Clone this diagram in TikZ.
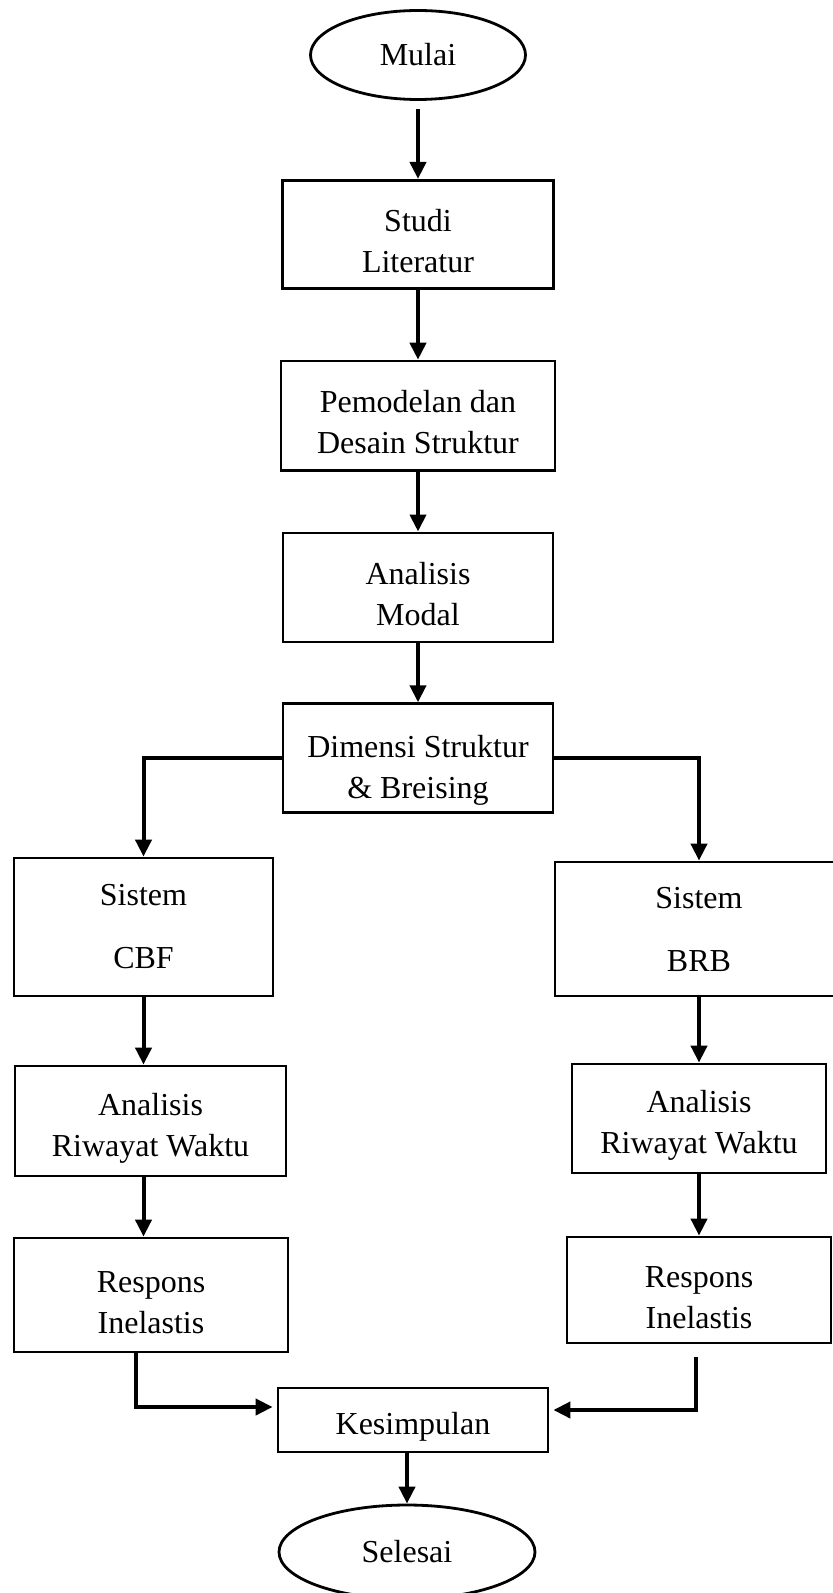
\documentclass[tikz,border=0pt]{standalone}
\usepackage{fontspec}
\setmainfont{Liberation Serif}
\usetikzlibrary{shapes.geometric,arrows.meta,positioning,calc}
\newcommand{\boxstrut}[1][18pt]{\rule{0pt}{#1}}

\begin{document}
\begin{tikzpicture}[
    x=0.5pt, y=-0.5pt,
    node distance=30pt,
    box/.style={rectangle, draw, line width=1.4pt, inner sep=0pt, align=center, font=\fontsize{16}{20.5}\selectfont},
    terminal/.style={ellipse, draw, line width=1.4pt, inner sep=0pt, font=\fontsize{16}{20.5}\selectfont},
    flow/.style={line width=2pt, -{Triangle[length=8.5pt, width=8pt]}}
]
  \useasboundingbox (0,0) rectangle (832,1593);

  % main column
  \node[terminal, minimum width=107.5pt, minimum height=44.5pt] (mulai) at (418,55) {Mulai};
  \node[box, minimum width=135.5pt, minimum height=54pt, below=39pt of mulai] (studi) {\boxstrut Studi\\Literatur};
  \node[box, minimum width=137pt, minimum height=54.5pt, below=35pt of studi] (pemodelan) {\boxstrut Pemodelan dan\\Desain Struktur};
  \node[box, minimum width=135pt, minimum height=54.5pt, below=30pt of pemodelan] (modal) {\boxstrut Analisis\\Modal};
  \node[box, minimum width=135pt, minimum height=54.5pt, below=29.5pt of modal] (dimensi) {\boxstrut[23pt]Dimensi Struktur\\\& Breising};

  % left branch
  \node[box, minimum width=129.5pt, minimum height=69pt] (cbf) at (143.5,927) {Sistem\\[11pt]CBF};
  \node[box, minimum width=135.5pt, minimum height=55pt] (rwkiri) at (150.5,1121) {\boxstrut Analisis\\Riwayat Waktu};
  \node[box, minimum width=137pt, minimum height=57pt] (respkiri) at (151,1295) {\boxstrut Respons\\Inelastis};

  % right branch
  \node[box, minimum width=144pt, minimum height=67pt] (brb) at (699,929) {Sistem\\[11pt]BRB};
  \node[box, minimum width=127pt, minimum height=54.5pt] (rwkanan) at (699,1118.5) {\boxstrut Analisis\\Riwayat Waktu};
  \node[box, minimum width=132pt, minimum height=53pt] (respkanan) at (699,1290) {\boxstrut Respons\\Inelastis};

  % end
  \node[box, minimum width=135pt, minimum height=32pt] (kesimpulan) at (413,1420) {\boxstrut Kesimpulan};
  \node[terminal, minimum width=128pt, minimum height=47pt] (selesai) at (407,1552) {Selesai};

  \draw[flow, shorten <=4pt] (mulai) -- (studi);
  \draw[flow] (studi) -- (pemodelan);
  \draw[flow] (pemodelan) -- (modal);
  \draw[flow] (modal) -- (dimensi);
  \draw[flow] (dimensi.west) -| (cbf.north);
  \draw[flow] (dimensi.east) -| (brb.north);
  \draw[flow] (cbf.south) -- (cbf.south |- rwkiri.north);
  \draw[flow] (cbf.south |- rwkiri.south) -- (cbf.south |- respkiri.north);
  \draw[flow] (brb) -- (rwkanan);
  \draw[flow] (rwkanan) -- (respkanan);
  \draw[flow, shorten >=2pt] ([xshift=-7.5pt]respkiri.south) |- ([yshift=6.5pt]kesimpulan.west);
  \draw[flow, shorten <=6.5pt, shorten >=2pt] ([xshift=-1.5pt]respkanan.south) |- ([yshift=5pt]kesimpulan.east);
  \draw[flow] (selesai.north |- kesimpulan.south) -- (selesai.north);
\end{tikzpicture}
\end{document}
